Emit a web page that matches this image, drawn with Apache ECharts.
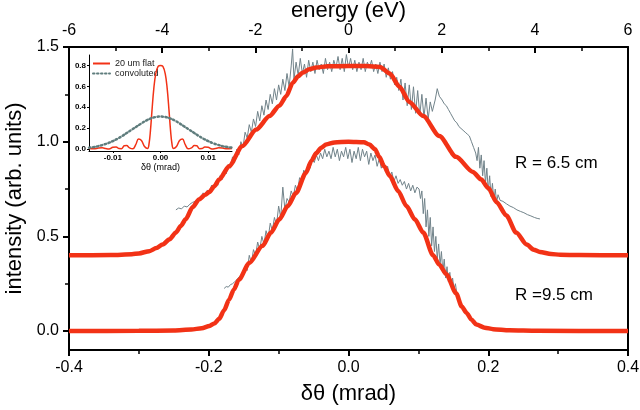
<!DOCTYPE html>
<html><head><meta charset="utf-8">
<script src="https://cdn.jsdelivr.net/npm/echarts@6/dist/echarts.min.js"></script>
<style>html,body{margin:0;padding:0;background:#fff}#c{width:640px;height:410px}</style>
</head><body><div id="c"></div>
<script>
// ---- main plot: red model curves ----
const fitX65 = [-0.40,-0.34,-0.31,-0.30,-0.285,-0.275,-0.266,-0.256,-0.247,-0.24,-0.233,-0.223,-0.214,-0.205,-0.199,-0.192,-0.185,-0.171,-0.152,-0.132,-0.113,-0.099,-0.089,-0.080,-0.072,-0.066,-0.056,-0.046,-0.03,0.0,0.025,0.045,0.059,0.073,0.087,0.107,0.13,0.154,0.178,0.19,0.20,0.212,0.226,0.24,0.255,0.265,0.274,0.29,0.303,0.33,0.40];
const fitY65 = [0.400,0.401,0.406,0.410,0.422,0.438,0.457,0.485,0.52,0.555,0.59,0.655,0.695,0.72,0.735,0.765,0.80,0.87,0.976,1.064,1.135,1.19,1.24,1.31,1.345,1.364,1.382,1.392,1.398,1.40,1.40,1.395,1.36,1.29,1.21,1.135,1.03,0.92,0.84,0.80,0.755,0.68,0.61,0.52,0.457,0.43,0.418,0.407,0.403,0.401,0.400];
const fitX95 = [-0.40,-0.30,-0.25,-0.225,-0.21,-0.199,-0.192,-0.185,-0.178,-0.171,-0.164,-0.157,-0.142,-0.123,-0.111,-0.099,-0.087,-0.075,-0.061,-0.053,-0.046,-0.039,-0.032,-0.02,0.0,0.022,0.030,0.038,0.044,0.051,0.059,0.071,0.083,0.095,0.107,0.121,0.130,0.140,0.154,0.162,0.169,0.176,0.183,0.195,0.207,0.23,0.27,0.40];
const fitY95 = [0,0.001,0.003,0.008,0.015,0.027,0.04,0.065,0.11,0.165,0.22,0.27,0.36,0.45,0.52,0.59,0.66,0.73,0.835,0.90,0.94,0.968,0.985,0.996,1.0,0.997,0.985,0.96,0.92,0.87,0.82,0.74,0.66,0.59,0.52,0.40,0.35,0.30,0.20,0.13,0.096,0.06,0.034,0.018,0.01,0.004,0.001,0];

// ---- main plot: measured (grey) curves ----
const dataX65 = [-0.247,-0.243,-0.239,-0.235,-0.231,-0.227,-0.223,-0.219,-0.215,-0.211,-0.208,-0.205,-0.202,-0.199,-0.196,-0.193,-0.190,-0.187,-0.184,-0.181,-0.178,-0.175,-0.172,-0.169,-0.166,-0.163,-0.160,-0.157,-0.154,-0.151,-0.148,-0.145,-0.142,-0.139,-0.136,-0.133,-0.130,-0.127,-0.124,-0.121,-0.118,-0.115,-0.112,-0.109,-0.106,-0.103,-0.100,-0.097,-0.094,-0.091,-0.088,-0.085,-0.082,-0.080,-0.078,-0.075,-0.072,-0.069,-0.066,-0.063,-0.060,-0.057,-0.054,-0.051,-0.048,-0.045,-0.042,-0.039,-0.036,-0.033,-0.030,-0.027,-0.024,-0.021,-0.018,-0.015,-0.012,-0.009,-0.006,-0.003,0.000,0.003,0.006,0.009,0.012,0.015,0.018,0.021,0.024,0.027,0.030,0.033,0.036,0.039,0.042,0.045,0.048,0.051,0.054,0.057,0.060,0.063,0.066,0.069,0.072,0.075,0.078,0.081,0.084,0.087,0.090,0.093,0.096,0.099,0.102,0.105,0.108,0.111,0.114,0.117,0.120,0.124,0.127,0.130,0.134,0.137,0.140,0.143,0.146,0.149,0.152,0.155,0.158,0.161,0.164,0.167,0.170,0.173,0.176,0.179,0.182,0.184,0.186,0.188,0.190,0.192,0.194,0.196,0.198,0.200,0.202,0.204,0.206,0.208,0.210,0.212,0.214,0.217,0.221,0.226,0.231,0.236,0.241,0.246,0.251,0.256,0.261,0.266,0.270,0.274];
const dataY65 = [0.64,0.65,0.645,0.66,0.655,0.67,0.68,0.685,0.70,0.71,0.73,0.715,0.745,0.73,0.77,0.75,0.79,0.77,0.82,0.80,0.85,0.83,0.88,0.86,0.92,0.89,0.96,0.93,1.00,0.97,1.05,1.02,1.09,1.05,1.12,1.08,1.16,1.11,1.19,1.14,1.22,1.17,1.25,1.20,1.28,1.22,1.30,1.25,1.33,1.27,1.36,1.29,1.40,1.49,1.33,1.42,1.35,1.44,1.36,1.41,1.34,1.43,1.37,1.42,1.36,1.43,1.38,1.41,1.36,1.44,1.38,1.42,1.37,1.43,1.39,1.45,1.38,1.44,1.37,1.46,1.39,1.44,1.38,1.43,1.37,1.42,1.38,1.44,1.37,1.42,1.39,1.43,1.37,1.41,1.36,1.42,1.37,1.41,1.34,1.39,1.33,1.37,1.30,1.34,1.27,1.33,1.22,1.31,1.19,1.30,1.17,1.29,1.15,1.27,1.14,1.25,1.13,1.23,1.12,1.21,1.16,1.22,1.28,1.24,1.22,1.20,1.19,1.17,1.15,1.13,1.11,1.10,1.08,1.07,1.06,1.05,1.04,1.03,1.00,0.97,0.94,0.90,0.97,0.86,0.93,0.82,0.90,0.78,0.86,0.74,0.82,0.71,0.78,0.69,0.75,0.68,0.72,0.69,0.685,0.672,0.66,0.652,0.64,0.632,0.625,0.615,0.608,0.60,0.595,0.592];
const dataX95 = [-0.178,-0.175,-0.172,-0.169,-0.166,-0.163,-0.160,-0.157,-0.154,-0.151,-0.148,-0.145,-0.142,-0.139,-0.136,-0.133,-0.130,-0.127,-0.124,-0.121,-0.118,-0.115,-0.112,-0.109,-0.106,-0.103,-0.100,-0.097,-0.094,-0.091,-0.088,-0.085,-0.082,-0.079,-0.076,-0.073,-0.070,-0.067,-0.064,-0.061,-0.058,-0.055,-0.052,-0.049,-0.046,-0.043,-0.040,-0.037,-0.034,-0.031,-0.028,-0.025,-0.022,-0.019,-0.016,-0.013,-0.010,-0.007,-0.004,-0.001,0.002,0.005,0.008,0.011,0.014,0.017,0.020,0.023,0.026,0.029,0.032,0.035,0.038,0.041,0.044,0.047,0.050,0.053,0.056,0.059,0.062,0.065,0.068,0.071,0.074,0.077,0.080,0.083,0.086,0.089,0.092,0.095,0.098,0.101,0.103,0.105,0.107,0.109,0.111,0.113,0.115,0.117,0.119,0.121,0.123,0.125,0.127,0.129,0.131,0.133,0.135,0.137,0.139,0.141,0.143,0.145,0.147,0.149,0.151,0.153,0.155,0.157,0.159];
const dataY95 = [0.225,0.235,0.232,0.245,0.25,0.26,0.27,0.285,0.29,0.31,0.34,0.32,0.40,0.36,0.43,0.40,0.47,0.43,0.50,0.46,0.53,0.49,0.57,0.53,0.60,0.56,0.66,0.60,0.76,0.64,0.70,0.68,0.74,0.71,0.77,0.74,0.81,0.79,0.85,0.83,0.88,0.86,0.91,0.89,0.93,0.90,0.94,0.91,0.96,0.92,0.95,0.91,0.97,0.92,0.96,0.90,0.95,0.92,0.97,0.91,0.96,0.89,0.95,0.91,0.97,0.90,0.96,0.92,0.95,0.88,0.94,0.90,0.93,0.87,0.91,0.86,0.89,0.84,0.87,0.81,0.84,0.79,0.82,0.78,0.80,0.77,0.79,0.75,0.78,0.74,0.77,0.73,0.76,0.75,0.70,0.74,0.62,0.70,0.55,0.64,0.50,0.60,0.45,0.55,0.42,0.50,0.38,0.46,0.35,0.42,0.31,0.38,0.28,0.34,0.26,0.31,0.24,0.28,0.22,0.25,0.20,0.19,0.17];

// ---- inset ----
const insetX = [-0.0150,-0.0140,-0.0130,-0.0122,-0.0115,-0.0108,-0.0100,-0.0093,-0.0087,-0.0082,-0.0076,-0.0071,-0.0065,-0.0058,-0.0052,-0.0046,-0.0040,-0.0033,-0.0027,-0.0024,-0.0021,-0.0018,-0.0014,-0.0010,-0.0005,0.0000,0.0005,0.0010,0.0014,0.0018,0.0021,0.0024,0.0027,0.0033,0.0040,0.0046,0.0052,0.0058,0.0065,0.0071,0.0076,0.0082,0.0087,0.0093,0.0100,0.0108,0.0115,0.0122,0.0130,0.0140,0.0150];
const flatY = [0.005,0.002,0.008,0.010,0.004,0.000,0.015,0.018,0.003,0.002,0.030,0.032,0.010,0.001,0.040,0.094,0.080,0.020,0.005,0.05,0.18,0.36,0.58,0.72,0.79,0.80,0.79,0.72,0.58,0.36,0.18,0.05,0.005,0.020,0.080,0.094,0.040,0.001,0.010,0.032,0.030,0.002,0.003,0.018,0.015,0.000,0.004,0.010,0.008,0.002,0.005];
const convX = [-0.015,-0.014,-0.013,-0.012,-0.011,-0.010,-0.009,-0.008,-0.007,-0.006,-0.005,-0.004,-0.003,-0.002,-0.001,0.000,0.001,0.002,0.003,0.004,0.005,0.006,0.007,0.008,0.009,0.010,0.011,0.012,0.013,0.014,0.015];
const convY = [0.012,0.018,0.027,0.040,0.055,0.075,0.098,0.125,0.155,0.185,0.215,0.245,0.272,0.293,0.306,0.310,0.306,0.293,0.272,0.245,0.215,0.185,0.155,0.125,0.098,0.075,0.055,0.040,0.027,0.018,0.012];

// ---- tick labels ----
const yTicks = [0, 0.5, 1.0, 1.5];
const yMinorTicks = [0.25, 0.75, 1.25];
const insetXTicks = [-0.01, 0, 0.01];
const insetYTicks = [0, 0.2, 0.4, 0.6, 0.8];
const seriesNames = ['20 um flat', 'convoluted'];
const labels = ['R = 6.5 cm', 'R =9.5 cm'];

const zip = (xs, ys) => xs.map((x, i) => [x, ys[i]]);
const FONT = 'Liberation Sans, Arial, sans-serif';
const RED = '#f23216';
const GREY = '#71838a';
const blackLine = { show: true, onZero: false, lineStyle: { color: '#000', width: 2 } };

const chart = echarts.init(document.getElementById('c'), null, { renderer: 'canvas' });
chart.setOption({
  animation: false,
  backgroundColor: '#fff',
  textStyle: { fontFamily: FONT },
  grid: [
    { left: 69, right: 12, top: 47, bottom: 60, outerBoundsMode: 'none', containLabel: false },
    { left: 89, top: 55, width: 143, height: 96, outerBoundsMode: 'none', containLabel: false }
  ],
  legend: {
    left: 92, top: 59, orient: 'vertical', itemGap: 1, itemWidth: 17, itemHeight: 8,
    itemStyle: { opacity: 0 },
    data: seriesNames, textStyle: { fontSize: 9, color: '#222', fontFamily: FONT }, padding: 0
  },
  xAxis: [
    { type: 'value', gridIndex: 0, position: 'bottom', min: -0.4, max: 0.4, interval: 0.2,
      axisLine: blackLine, splitLine: { show: false },
      axisTick: { show: true, inside: false, length: 6, lineStyle: { color: '#000', width: 2 } },
      minorTick: { show: true, splitNumber: 2, length: 4, lineStyle: { color: '#000', width: 1.5 } },
      axisLabel: { fontSize: 16, color: '#000', margin: 10, formatter: v => v.toFixed(1) },
      name: 'δθ (mrad)', nameLocation: 'middle', nameGap: 33, nameTextStyle: { fontSize: 22, color: '#000' } },
    { type: 'value', gridIndex: 0, position: 'top', min: -6, max: 6, interval: 2,
      axisLine: blackLine, splitLine: { show: false },
      axisTick: { show: true, inside: true, length: 6, lineStyle: { color: '#000', width: 2 } },
      minorTick: { show: true, splitNumber: 2, length: 4, lineStyle: { color: '#000', width: 1.5 } },
      axisLabel: { fontSize: 16, color: '#000', margin: 8 },
      name: 'energy (eV)', nameLocation: 'middle', nameGap: 25, nameMoveOverlap: false,
      nameTextStyle: { fontSize: 22, color: '#000' } },
    { type: 'value', gridIndex: 1, position: 'bottom', min: -0.015, max: 0.015,
      axisLine: { show: true, onZero: false, lineStyle: { color: '#000', width: 1 } }, splitLine: { show: false },
      axisTick: { show: true, length: 2, customValues: insetXTicks, lineStyle: { color: '#000', width: 1 } },
      axisLabel: { fontSize: 8, fontWeight: 'bold', color: '#000', margin: 3, customValues: insetXTicks, formatter: v => v.toFixed(2) },
      name: 'δθ (mrad)', nameLocation: 'middle', nameGap: 12, nameTextStyle: { fontSize: 9, color: '#000' } }
  ],
  yAxis: [
    { type: 'value', gridIndex: 0, position: 'left', min: -0.1, max: 1.5,
      axisLine: blackLine, splitLine: { show: false },
      axisTick: { show: true, length: 6, customValues: yTicks, lineStyle: { color: '#000', width: 2 } },
      axisLabel: { fontSize: 16, color: '#000', margin: 10, customValues: yTicks, formatter: v => v.toFixed(1) },
      name: 'intensity (arb. units)', nameLocation: 'middle', nameGap: 40, nameRotate: 90,
      nameTextStyle: { fontSize: 22, color: '#000' } },
    { type: 'value', gridIndex: 0, position: 'left', offset: 0, min: -0.1, max: 1.5,
      axisLine: { show: false, onZero: false }, splitLine: { show: false },
      axisTick: { show: true, length: 4, customValues: yMinorTicks, lineStyle: { color: '#000', width: 1.5 } },
      axisLabel: { show: false } },
    { type: 'value', gridIndex: 0, position: 'right', min: -0.1, max: 1.5,
      axisLine: blackLine, splitLine: { show: false }, axisTick: { show: false }, axisLabel: { show: false } },
    { type: 'value', gridIndex: 1, position: 'left', min: -0.02, max: 0.9,
      axisLine: { show: true, onZero: false, lineStyle: { color: '#000', width: 1 } }, splitLine: { show: false },
      axisTick: { show: true, length: 2, customValues: insetYTicks, lineStyle: { color: '#000', width: 1 } },
      axisLabel: { fontSize: 8, fontWeight: 'bold', color: '#000', margin: 3, customValues: insetYTicks, formatter: v => v.toFixed(1) } }
  ],
  series: [
    { type: 'line', name: 'data65', xAxisIndex: 0, yAxisIndex: 0, data: zip(dataX65, dataY65), showSymbol: false, symbol: 'none',
      lineStyle: { color: GREY, width: 1 }, z: 2 },
    { type: 'line', name: 'data95', xAxisIndex: 0, yAxisIndex: 0, data: zip(dataX95, dataY95), showSymbol: false, symbol: 'none',
      lineStyle: { color: GREY, width: 1 }, z: 2 },
    { type: 'line', name: 'fit65', xAxisIndex: 0, yAxisIndex: 0, data: zip(fitX65, fitY65), showSymbol: false, symbol: 'none',
      smooth: 0.25, smoothMonotone: 'x', lineStyle: { color: RED, width: 4.5 }, z: 3 },
    { type: 'line', name: 'fit95', xAxisIndex: 0, yAxisIndex: 0, data: zip(fitX95, fitY95), showSymbol: false, symbol: 'none',
      smooth: 0.25, smoothMonotone: 'x', lineStyle: { color: RED, width: 4.5 }, z: 3 },
    { type: 'line', name: seriesNames[0], xAxisIndex: 2, yAxisIndex: 3, data: zip(insetX, flatY), showSymbol: false, symbol: 'none', smooth: 0.4,
      itemStyle: { color: RED }, lineStyle: { color: RED, width: 1.5 }, z: 4 },
    { type: 'line', name: seriesNames[1], xAxisIndex: 2, yAxisIndex: 3, data: zip(convX, convY), showSymbol: false, symbol: 'none', smooth: 0.4,
      itemStyle: { color: '#5f7d7d' }, lineStyle: { color: '#5f7d7d', width: 2.5, type: [1.5, 2.5], cap: 'round' }, z: 4 }
  ],
  graphic: [
    { type: 'text', x: 515, y: 163, style: { text: labels[0], font: '17px ' + FONT, fill: '#000', verticalAlign: 'middle' } },
    { type: 'text', x: 515, y: 295, style: { text: labels[1], font: '17px ' + FONT, fill: '#000', verticalAlign: 'middle' } }
  ]
});
</script></body></html>
